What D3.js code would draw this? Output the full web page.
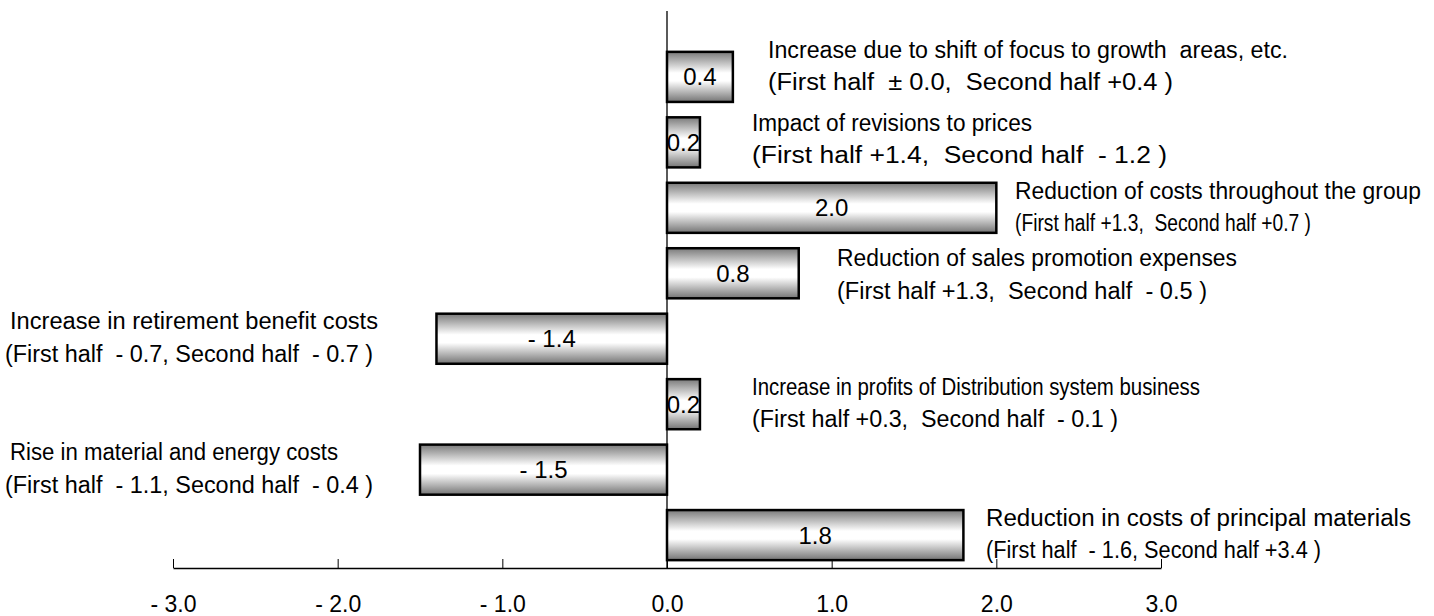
<!DOCTYPE html>
<html>
<head>
<meta charset="utf-8">
<script src="https://cdn.jsdelivr.net/npm/d3@7"></script>
<style>
  html, body { margin: 0; padding: 0; background: #fff; }
  svg { display: block; }
  text { font-family: "Liberation Sans", Arial, sans-serif; fill: #000; white-space: pre; }
</style>
</head>
<body>
<svg id="chart" width="1434" height="616"></svg>
<script>
// ---- data ----
const categories = [
  "Increase due to shift of focus to growth  areas, etc.",
  "Impact of revisions to prices",
  "Reduction of costs throughout the group",
  "Reduction of sales promotion expenses",
  "Increase in retirement benefit costs",
  "Increase in profits of Distribution system business",
  "Rise in material and energy costs",
  "Reduction in costs of principal materials"
];
const subLabels = [
  "(First half  \u00B1 0.0,  Second half +0.4 )",
  "(First half +1.4,  Second half  - 1.2 )",
  "(First half +1.3,  Second half +0.7 )",
  "(First half +1.3,  Second half  - 0.5 )",
  "(First half  - 0.7, Second half  - 0.7 )",
  "(First half +0.3,  Second half  - 0.1 )",
  "(First half  - 1.1, Second half  - 0.4 )",
  "(First half  - 1.6, Second half +3.4 )"
];
const values = [0.4, 0.2, 2.0, 0.8, -1.4, 0.2, -1.5, 1.8];
const tickValues = [-3, -2, -1, 0, 1, 2, 3];
const tickLabels = ["- 3.0", "- 2.0", "- 1.0", "0.0", "1.0", "2.0", "3.0"];

// ---- annotation layout (not data) ----
const labelX = [768, 752, 1015, 837, 10, 752, 10, 986];
const line1Dy = [-27, -20, -17, -16, -18, -17, -18, -17];
const line2Dy = [5, 12, 15, 17, 15, 15, 15, 15];
const line2Dx = [0, 0, 0, 0, -5, 0, -5, 0];
const line1W = [520, 280, 406, 400, 368, 448, 328, 425];
const line2W = [405, 415, 296, 370, 368, 366, 368, 335];

const svg = d3.select("#chart");

const x = d3.scaleLinear().domain([-3, 3]).range([173, 1161]);
const y = d3.scaleBand().domain(d3.range(values.length)).range([44, 568])
  .paddingInner(0.235).paddingOuter(0.12);

// gradient
const defs = svg.append("defs");
const grad = defs.append("linearGradient").attr("id", "barGrad")
  .attr("x1", 0).attr("y1", 0).attr("x2", 0).attr("y2", 1);
grad.append("stop").attr("offset", "0%").attr("stop-color", "#7a7a7a");
grad.append("stop").attr("offset", "42%").attr("stop-color", "#ffffff");
grad.append("stop").attr("offset", "58%").attr("stop-color", "#ffffff");
grad.append("stop").attr("offset", "100%").attr("stop-color", "#747474");

// vertical zero line
svg.append("line")
  .attr("x1", x(0)).attr("x2", x(0))
  .attr("y1", 11).attr("y2", 568)
  .attr("stroke", "#000").attr("stroke-width", 1.3);

// bars
svg.append("g").selectAll("rect").data(values).join("rect")
  .attr("x", d => x(Math.min(0, d)))
  .attr("y", (d, i) => y(i))
  .attr("width", d => Math.abs(x(d) - x(0)))
  .attr("height", y.bandwidth())
  .attr("fill", "url(#barGrad)")
  .attr("stroke", "#000")
  .attr("stroke-width", 2.5);

// value labels
svg.append("g").selectAll("text").data(values).join("text")
  .attr("x", d => (x(d) + x(0)) / 2)
  .attr("y", (d, i) => y(i) + y.bandwidth() / 2 + 8.5)
  .attr("text-anchor", "middle")
  .attr("font-size", 24)
  .text(d => (d < 0 ? "- " + Math.abs(d).toFixed(1) : d.toFixed(1)));

// category labels
const lab = svg.append("g").selectAll("g").data(categories).join("g");
lab.append("text")
  .attr("x", (d, i) => labelX[i])
  .attr("y", (d, i) => y(i) + y.bandwidth() / 2 + line1Dy[i] + 8.3)
  .attr("font-size", 23)
  .attr("textLength", (d, i) => line1W[i])
  .attr("lengthAdjust", "spacingAndGlyphs")
  .text(d => d);
lab.append("text")
  .attr("x", (d, i) => labelX[i] + line2Dx[i])
  .attr("y", (d, i) => y(i) + y.bandwidth() / 2 + line2Dy[i] + 8.3)
  .attr("font-size", 23)
  .attr("textLength", (d, i) => line2W[i])
  .attr("lengthAdjust", "spacingAndGlyphs")
  .text((d, i) => subLabels[i]);

// x axis
const axis = d3.axisBottom(x).tickValues(tickValues)
  .tickSize(-9).tickSizeOuter(0)
  .tickFormat((d, i) => tickLabels[i]);
const gx = svg.append("g").attr("transform", "translate(0,568)").call(axis);
gx.select(".domain").attr("stroke", "#000").attr("stroke-width", 1.3);
gx.selectAll(".tick line").attr("stroke", "#000").attr("stroke-width", 1);
gx.selectAll(".tick text")
  .attr("font-family", "Liberation Sans, Arial, sans-serif")
  .attr("font-size", 23)
  .attr("fill", "#000")
  .attr("dy", 0)
  .attr("y", 43.5);
</script>
</body>
</html>
